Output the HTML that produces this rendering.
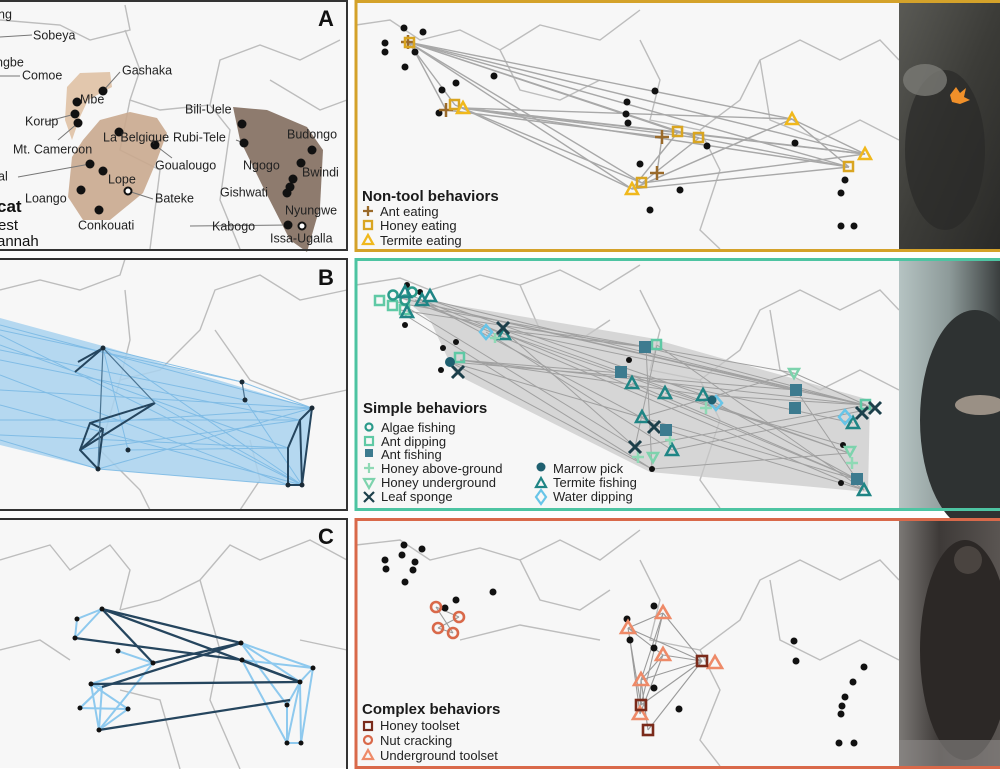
<!DOCTYPE html>
<html><head><meta charset="utf-8"><style>
html,body{margin:0;padding:0;background:#fff;}
svg{display:block;font-family:"Liberation Sans",Arial,sans-serif;}
</style></head><body>
<svg width="1000" height="769" viewBox="0 0 1000 769" xmlns="http://www.w3.org/2000/svg">
<defs>
<linearGradient id="p1" x1="0" y1="0" x2="1" y2="1"><stop offset="0" stop-color="#5a5a55"/><stop offset="0.5" stop-color="#3c3c38"/><stop offset="1" stop-color="#2a2a28"/></linearGradient>
<linearGradient id="p2" x1="0" y1="0" x2="1" y2="0"><stop offset="0" stop-color="#b5c3c2"/><stop offset="0.5" stop-color="#8d9a99"/><stop offset="1" stop-color="#3a3e3e"/></linearGradient>
<linearGradient id="p3" x1="0" y1="0" x2="1" y2="0"><stop offset="0" stop-color="#7b7875"/><stop offset="0.4" stop-color="#3e3a38"/><stop offset="1" stop-color="#5a5552"/></linearGradient>
</defs>
<rect width="1000" height="769" fill="#fff"/>

<rect x="0" y="2" width="347" height="247" fill="#f7f7f7"/>
<rect x="0" y="259" width="347" height="251" fill="#f7f7f7"/>
<rect x="0" y="519" width="347" height="249" fill="#f7f7f7"/>
<rect x="356" y="3" width="543" height="246" fill="#f7f7f7"/>
<rect x="356" y="261" width="543" height="247" fill="#f7f7f7"/>
<rect x="356" y="521" width="543" height="245" fill="#f7f7f7"/>

<g fill="none" stroke="#bdbdbd" stroke-width="1.4">
<path d="M0 20 L60 25 L90 40 L130 30 L125 5"/>
<path d="M125 30 L140 70 L130 100 L160 110 L210 105 L220 60 L260 45 L300 60 L340 40"/>
<path d="M210 105 L230 130 L220 200 L240 249"/>
<path d="M130 100 L120 150 L160 170 L150 249"/>
<path d="M270 80 L320 110 L347 100"/>
<path d="M0 290 L40 280 L80 290 L120 275 L125 259"/>
<path d="M125 290 L130 340 L120 380 L160 370 L200 330 L215 290 L260 275 L300 300 L347 290"/>
<path d="M215 330 L250 380 L300 400 L347 390"/>
<path d="M120 380 L100 450 L140 490 L150 510"/>
<path d="M250 440 L260 480 L240 510"/>
<path d="M0 560 L50 545 L70 570 L110 545 L130 570 L120 610"/>
<path d="M120 610 L160 600 L200 580 L230 545 L260 560 L310 540 L347 560"/>
<path d="M200 580 L220 650 L210 700 L240 769"/>
<path d="M0 650 L40 640 L70 660"/>
<path d="M120 690 L160 700 L180 769"/>
<path d="M300 640 L347 650"/>
<path d="M356 25 L390 20 L420 40 L460 30 L500 50 L540 25 L600 40 L640 10"/>
<path d="M640 40 L660 80 L650 120 L700 130 L740 100 L760 60 L800 40 L840 60 L880 40 L899 60"/>
<path d="M700 130 L720 170 L700 230 L720 249"/>
<path d="M760 60 L770 120 L820 140 L860 120 L899 140"/>
<path d="M500 50 L520 90 L560 100 L600 80"/>
<path d="M356 285 L400 278 L430 290 L480 275 L520 285 L560 270 L600 290 L640 265"/>
<path d="M640 290 L660 330 L650 370 L700 380 L740 350 L760 310 L800 290 L840 310 L880 290 L899 310"/>
<path d="M700 380 L720 420 L700 480 L720 508"/>
<path d="M770 310 L780 370 L820 390 L860 370 L899 390"/>
<path d="M520 285 L540 330 L580 340 L610 320"/>
<path d="M356 545 L400 540 L430 560 L480 548 L520 560 L560 540 L600 560 L640 530"/>
<path d="M640 560 L660 600 L650 640 L700 650 L740 620 L760 580 L800 560 L840 580 L880 560 L899 580"/>
<path d="M700 650 L720 690 L700 740 L720 766"/>
<path d="M770 580 L780 640 L820 660 L860 640 L899 660"/>
<path d="M520 560 L540 600 L580 610 L610 590"/>
<path d="M460 640 L520 625 L600 640"/>
</g>

<!-- Panel A -->
<polygon points="67,87 80,73 110,72 112,87 88,100 80,117 72,140 65,120" fill="#e2c7ad"/>
<polygon points="100,120 130,112 157,118 167,133 157,160 143,193 110,220 83,220 68,197 72,157 83,140" fill="#c9a88e" opacity="0.9"/>
<polygon points="233,107 267,110 307,127 323,150 320,207 307,252 290,240 263,187 240,140" fill="#8e7b6e"/>
<g stroke="#777" stroke-width="1" fill="none">
<line x1="0" y1="37" x2="32" y2="35"/><line x1="0" y1="76" x2="20" y2="76"/>
<line x1="103" y1="91" x2="120" y2="72"/><line x1="45" y1="122" x2="75" y2="114"/>
<line x1="58" y1="140" x2="78" y2="123"/><line x1="18" y1="177" x2="90" y2="164"/>
<line x1="128" y1="191" x2="153" y2="199"/><line x1="155" y1="145" x2="172" y2="158"/>
<line x1="190" y1="226" x2="288" y2="225"/><line x1="244" y1="143" x2="236" y2="140"/>
</g>
<g fill="#111">
<circle cx="103" cy="91" r="4.5"/><circle cx="77" cy="102" r="4.5"/><circle cx="75" cy="114" r="4.5"/><circle cx="78" cy="123" r="4.5"/>
<circle cx="119" cy="132" r="4.5"/><circle cx="155" cy="145" r="4.5"/><circle cx="90" cy="164" r="4.5"/><circle cx="103" cy="171" r="4.5"/>
<circle cx="81" cy="190" r="4.5"/><circle cx="99" cy="210" r="4.5"/><circle cx="242" cy="124" r="4.5"/><circle cx="244" cy="143" r="4.5"/>
<circle cx="312" cy="150" r="4.5"/><circle cx="301" cy="163" r="4.5"/><circle cx="293" cy="179" r="4.5"/><circle cx="290" cy="187" r="4.5"/>
<circle cx="287" cy="193" r="4.5"/><circle cx="288" cy="225" r="4.5"/>
</g>
<circle cx="128" cy="191" r="3.5" fill="#fff" stroke="#111" stroke-width="2"/>
<circle cx="302" cy="226" r="3.5" fill="#fff" stroke="#111" stroke-width="2"/>
<g font-size="12.5" fill="#222" dominant-baseline="middle">
<text x="-2" y="15">ng</text><text x="33" y="36">Sobeya</text><text x="-4" y="63">ngbe</text><text x="22" y="76">Comoe</text>
<text x="122" y="71">Gashaka</text><text x="80" y="100">Mbe</text><text x="25" y="122">Korup</text><text x="13" y="150">Mt. Cameroon</text>
<text x="103" y="138">La Belgique</text><text x="173" y="138">Rubi-Tele</text><text x="185" y="110">Bili-Uele</text><text x="287" y="135">Budongo</text>
<text x="155" y="166">Goualougo</text><text x="243" y="166">Ngogo</text><text x="302" y="173">Bwindi</text><text x="-2" y="177">al</text>
<text x="108" y="180">Lope</text><text x="220" y="193">Gishwati</text><text x="25" y="199">Loango</text><text x="155" y="199">Bateke</text>
<text x="285" y="211">Nyungwe</text><text x="78" y="226">Conkouati</text><text x="212" y="227">Kabogo</text><text x="270" y="239">Issa-Ugalla</text>
</g>
<text x="-3" y="212" font-size="17" font-weight="bold" fill="#111">cat</text>
<text x="-2" y="230" font-size="15" fill="#111">est</text>
<text x="-3" y="246" font-size="15" fill="#111">annah</text>
<text x="318" y="26" font-size="22" font-weight="bold" fill="#111">A</text>

<!-- Panel B -->
<polygon points="0,318 103,346 312,408 302,485 288,485 98,469 0,445" fill="#a9d2ef" opacity="0.85"/>
<g stroke="#78b8e4" stroke-width="1" opacity="0.85">
<line x1="0" y1="325" x2="312" y2="408"/><line x1="0" y1="335" x2="302" y2="485"/><line x1="0" y1="345" x2="288" y2="448"/>
<line x1="0" y1="360" x2="300" y2="420"/><line x1="0" y1="375" x2="288" y2="485"/><line x1="0" y1="390" x2="312" y2="408"/>
<line x1="0" y1="405" x2="302" y2="485"/><line x1="0" y1="420" x2="300" y2="420"/><line x1="0" y1="435" x2="288" y2="448"/>
<line x1="0" y1="330" x2="242" y2="382"/><line x1="0" y1="350" x2="245" y2="400"/><line x1="0" y1="440" x2="98" y2="469"/>
<line x1="103" y1="348" x2="302" y2="485"/><line x1="103" y1="348" x2="242" y2="382"/><line x1="98" y1="469" x2="312" y2="408"/>
<line x1="80" y1="450" x2="300" y2="420"/><line x1="98" y1="469" x2="288" y2="485"/><line x1="155" y1="403" x2="302" y2="485"/>
<line x1="90" y1="423" x2="312" y2="408"/><line x1="128" y1="450" x2="288" y2="448"/><line x1="103" y1="348" x2="128" y2="450"/>
<line x1="242" y1="382" x2="312" y2="408"/><line x1="245" y1="400" x2="302" y2="485"/>
</g>
<g stroke="#25455e" stroke-width="2" fill="none">
<polyline points="103,348 75,372"/><polyline points="103,348 78,362"/>
<polyline points="155,403 90,423 80,450 98,469 103,429 90,423"/><line x1="155" y1="403" x2="80" y2="450"/>
<line x1="103" y1="429" x2="80" y2="450"/>
<polyline points="312,408 300,420 288,448 288,485 302,485 312,408"/><line x1="300" y1="420" x2="302" y2="485"/>
</g>
<g stroke="#4a7391" stroke-width="1.2"><line x1="103" y1="348" x2="98" y2="469"/><line x1="103" y1="348" x2="155" y2="403"/><line x1="242" y1="382" x2="245" y2="400"/></g>
<g fill="#1a2a36"><circle cx="103" cy="348" r="2.5"/><circle cx="242" cy="382" r="2.5"/><circle cx="245" cy="400" r="2.5"/><circle cx="128" cy="450" r="2.5"/><circle cx="312" cy="408" r="2.5"/><circle cx="288" cy="485" r="2.5"/><circle cx="302" cy="485" r="2.5"/><circle cx="98" cy="469" r="2.5"/></g>
<text x="318" y="285" font-size="22" font-weight="bold" fill="#111">B</text>

<!-- Panel C -->
<g stroke="#8ec9ee" stroke-width="2" fill="none">
<polyline points="102,609 77,619 75,638 102,609"/><line x1="118" y1="651" x2="153" y2="663"/>
<polyline points="91,684 102,687 80,708 128,709 99,730 91,684 128,709"/><line x1="102" y1="687" x2="99" y2="730"/><line x1="80" y1="708" x2="102" y2="687"/><line x1="153" y1="663" x2="91" y2="684"/><line x1="153" y1="663" x2="99" y2="730"/>
<polyline points="241,643 313,668 300,682 287,705 287,743 301,743 313,668"/><line x1="241" y1="643" x2="300" y2="682"/><line x1="242" y1="660" x2="313" y2="668"/><line x1="241" y1="643" x2="287" y2="705"/><line x1="300" y1="682" x2="301" y2="743"/><line x1="242" y1="660" x2="287" y2="743"/><line x1="300" y1="682" x2="287" y2="743"/>
</g>
<g stroke="#25455e" stroke-width="2.3" fill="none">
<line x1="102" y1="609" x2="241" y2="643"/><line x1="102" y1="609" x2="300" y2="682"/><line x1="102" y1="609" x2="153" y2="663"/>
<line x1="75" y1="638" x2="242" y2="660"/><line x1="153" y1="663" x2="241" y2="643"/><line x1="91" y1="684" x2="300" y2="682"/>
<line x1="99" y1="730" x2="290" y2="700"/><line x1="242" y1="660" x2="300" y2="682"/><line x1="102" y1="687" x2="241" y2="643"/>
</g>
<g fill="#111"><circle cx="102" cy="609" r="2.5"/><circle cx="77" cy="619" r="2.5"/><circle cx="75" cy="638" r="2.5"/><circle cx="118" cy="651" r="2.5"/><circle cx="153" cy="663" r="2.5"/><circle cx="241" cy="643" r="2.5"/><circle cx="242" cy="660" r="2.5"/><circle cx="313" cy="668" r="2.5"/><circle cx="300" cy="682" r="2.5"/><circle cx="91" cy="684" r="2.5"/><circle cx="80" cy="708" r="2.5"/><circle cx="128" cy="709" r="2.5"/><circle cx="287" cy="705" r="2.5"/><circle cx="99" cy="730" r="2.5"/><circle cx="287" cy="743" r="2.5"/><circle cx="301" cy="743" r="2.5"/></g>
<text x="318" y="544" font-size="22" font-weight="bold" fill="#111">C</text>

<!-- Top right -->
<g stroke="#a8a8a8" stroke-width="1.4">
<line x1="408" y1="42" x2="455" y2="105"/><line x1="408" y1="42" x2="678" y2="132"/><line x1="408" y1="42" x2="699" y2="138"/>
<line x1="408" y1="42" x2="632" y2="189"/><line x1="408" y1="42" x2="865" y2="154"/><line x1="408" y1="42" x2="849" y2="167"/>
<line x1="408" y1="42" x2="792" y2="119"/><line x1="408" y1="42" x2="642" y2="183"/><line x1="414" y1="50" x2="446" y2="110"/>
<line x1="462" y1="108" x2="792" y2="119"/><line x1="462" y1="108" x2="865" y2="154"/><line x1="462" y1="108" x2="849" y2="167"/>
<line x1="462" y1="108" x2="632" y2="189"/><line x1="462" y1="108" x2="678" y2="132"/><line x1="462" y1="108" x2="699" y2="138"/>
<line x1="455" y1="105" x2="642" y2="183"/><line x1="446" y1="110" x2="662" y2="137"/>
<line x1="632" y1="189" x2="792" y2="119"/><line x1="632" y1="189" x2="849" y2="167"/><line x1="642" y1="183" x2="865" y2="154"/>
<line x1="632" y1="189" x2="678" y2="132"/><line x1="642" y1="183" x2="699" y2="138"/><line x1="657" y1="173" x2="662" y2="137"/>
<line x1="678" y1="132" x2="865" y2="154"/><line x1="699" y1="138" x2="849" y2="167"/><line x1="792" y1="119" x2="865" y2="154"/><line x1="792" y1="119" x2="849" y2="167"/>
</g>
<g fill="#111">
<circle cx="404" cy="28" r="3.5"/><circle cx="423" cy="32" r="3.5"/><circle cx="385" cy="43" r="3.5"/><circle cx="385" cy="52" r="3.5"/><circle cx="415" cy="52" r="3.5"/><circle cx="405" cy="67" r="3.5"/>
<circle cx="456" cy="83" r="3.5"/><circle cx="442" cy="90" r="3.5"/><circle cx="439" cy="113" r="3.5"/><circle cx="494" cy="76" r="3.5"/>
<circle cx="655" cy="91" r="3.5"/><circle cx="627" cy="102" r="3.5"/><circle cx="626" cy="114" r="3.5"/><circle cx="628" cy="123" r="3.5"/>
<circle cx="707" cy="146" r="3.5"/><circle cx="640" cy="164" r="3.5"/><circle cx="680" cy="190" r="3.5"/><circle cx="650" cy="210" r="3.5"/>
<circle cx="795" cy="143" r="3.5"/><circle cx="845" cy="180" r="3.5"/><circle cx="841" cy="193" r="3.5"/><circle cx="841" cy="226" r="3.5"/><circle cx="854" cy="226" r="3.5"/>
</g>
<g fill="none" stroke-width="2.5">
<g stroke="#9a6a2a"><path d="M401 42h14M408 35v14"/><path d="M439 110h14M446 103v14"/><path d="M655 137h14M662 130v14"/><path d="M650 173h14M657 166v14"/></g>
<g stroke="#d9a521"><rect x="405" y="38" width="9" height="9"/><rect x="450" y="100" width="9" height="9"/><rect x="673" y="127" width="9" height="9"/><rect x="694" y="133" width="9" height="9"/><rect x="637" y="178" width="9" height="9"/><rect x="844" y="162" width="9" height="9"/></g>
<g stroke="#f0b81c"><path d="M463 102l6 11h-12z"/><path d="M632 183l6 11h-12z"/><path d="M792 113l6 11h-12z"/><path d="M865 148l6 11h-12z"/></g>
</g>
<text x="362" y="201" font-size="15" font-weight="bold" fill="#1a1a1a">Non-tool behaviors</text>
<g stroke-width="2.3" fill="none"><path d="M363 211h10M368 206v10" stroke="#9a6a2a"/><rect x="364" y="221" width="8" height="8" stroke="#d9a521"/><path d="M368 235l5 9h-10z" stroke="#f0b81c"/></g>
<g font-size="13" fill="#222"><text x="380" y="216">Ant eating</text><text x="380" y="230">Honey eating</text><text x="380" y="245">Termite eating</text></g>

<!-- Middle right -->
<polygon points="400,296 650,338 870,400 868,492 650,472 455,374 430,320" fill="#c8c8c8" opacity="0.7"/>
<g stroke="#a0a0a0" stroke-width="1">
<line x1="400" y1="298" x2="866" y2="405"/><line x1="410" y1="295" x2="858" y2="480"/><line x1="420" y1="305" x2="849" y2="453"/><line x1="430" y1="300" x2="875" y2="408"/>
<line x1="405" y1="315" x2="652" y2="469"/><line x1="395" y1="300" x2="635" y2="447"/><line x1="420" y1="300" x2="665" y2="430"/><line x1="410" y1="305" x2="794" y2="373"/>
<line x1="430" y1="305" x2="796" y2="390"/><line x1="400" y1="310" x2="646" y2="347"/><line x1="430" y1="300" x2="703" y2="395"/><line x1="415" y1="300" x2="864" y2="490"/>
<line x1="460" y1="360" x2="866" y2="405"/><line x1="450" y1="362" x2="858" y2="480"/><line x1="460" y1="360" x2="703" y2="395"/><line x1="450" y1="362" x2="652" y2="469"/>
<line x1="503" y1="330" x2="866" y2="405"/><line x1="503" y1="330" x2="849" y2="453"/><line x1="503" y1="330" x2="635" y2="447"/><line x1="486" y1="332" x2="672" y2="450"/>
<line x1="646" y1="347" x2="875" y2="408"/><line x1="657" y1="345" x2="864" y2="490"/><line x1="621" y1="373" x2="853" y2="423"/><line x1="632" y1="383" x2="858" y2="480"/>
<line x1="635" y1="447" x2="866" y2="405"/><line x1="652" y1="469" x2="849" y2="453"/><line x1="672" y1="450" x2="875" y2="408"/><line x1="665" y1="430" x2="864" y2="490"/>
<line x1="642" y1="417" x2="794" y2="373"/><line x1="716" y1="403" x2="858" y2="480"/><line x1="703" y1="395" x2="866" y2="405"/><line x1="665" y1="393" x2="843" y2="445"/>
<line x1="646" y1="347" x2="652" y2="469"/><line x1="657" y1="345" x2="635" y2="447"/><line x1="794" y1="373" x2="866" y2="405"/><line x1="796" y1="390" x2="864" y2="490"/>
<line x1="460" y1="360" x2="621" y2="373"/><line x1="503" y1="330" x2="646" y2="347"/><line x1="450" y1="362" x2="796" y2="390"/>
</g>
<g fill="#111"><circle cx="405" cy="325" r="3"/><circle cx="456" cy="342" r="3"/><circle cx="443" cy="348" r="3"/><circle cx="441" cy="370" r="3"/><circle cx="629" cy="360" r="3"/><circle cx="652" cy="469" r="3"/><circle cx="843" cy="445" r="3"/><circle cx="841" cy="483" r="3"/><circle cx="420" cy="292" r="3"/><circle cx="407" cy="285" r="3"/></g>
<g fill="none" stroke-width="2.5">
<g stroke="#5fc9a5"><rect x="375" y="296" width="9" height="9"/><rect x="388" y="301" width="9" height="9"/><rect x="400" y="305" width="9" height="9"/><rect x="455" y="353" width="9" height="9"/><rect x="652" y="340" width="9" height="9"/><rect x="861" y="400" width="9" height="9"/></g>
<g stroke="#2a9a8a"><circle cx="393" cy="295" r="4.5"/><circle cx="405" cy="300" r="4.5"/><circle cx="412" cy="292" r="4.5"/></g>
<g stroke="#1f8585"><path d="M405 286l6 11h-12z"/><path d="M422 294l6 11h-12z"/><path d="M430 290l6 11h-12z"/><path d="M407 306l6 11h-12z"/><path d="M504 328l6 11h-12z"/><path d="M632 377l6 11h-12z"/><path d="M665 387l6 11h-12z"/><path d="M703 389l6 11h-12z"/><path d="M642 411l6 11h-12z"/><path d="M672 444l6 11h-12z"/><path d="M853 417l6 11h-12z"/><path d="M864 484l6 11h-12z"/></g>
<g stroke="#8fd9b5"><path d="M490 338h10M495 333v10"/><path d="M700 408h12M706 402v12"/><path d="M632 457h12M638 451v12"/><path d="M846 463h12M852 457v12"/><path d="M665 440h10M670 435v10"/></g>
<g stroke="#7dd3ad"><path d="M789 369l5 9 5-9z"/><path d="M845 447l5 9 5-9z"/><path d="M648 453l5 9 5-9z"/></g>
<g stroke="#68c5e8"><path d="M486 325l6 7-6 7-6-7z"/><path d="M716 396l6 7-6 7-6-7z"/><path d="M845 410l6 7-6 7-6-7z"/></g>
<g stroke="#1c3f4a" stroke-width="3"><path d="M497 322l12 12M509 322l-12 12"/><path d="M452 366l12 12M464 366l-12 12"/><path d="M648 421l12 12M660 421l-12 12"/><path d="M629 441l12 12M641 441l-12 12"/><path d="M869 402l12 12M881 402l-12 12"/><path d="M856 407l12 12M868 407l-12 12"/></g>
</g>
<g fill="#3d7b8f"><rect x="639" y="341" width="12" height="12"/><rect x="615" y="366" width="12" height="12"/><rect x="660" y="424" width="12" height="12"/><rect x="790" y="384" width="12" height="12"/><rect x="789" y="402" width="12" height="12"/><rect x="851" y="473" width="12" height="12"/></g>
<g fill="#1f6070"><circle cx="450" cy="362" r="5"/><circle cx="712" cy="400" r="4.5"/></g>
<text x="363" y="413" font-size="15" font-weight="bold" fill="#1a1a1a">Simple behaviors</text>
<g fill="none" stroke-width="2.2">
<circle cx="369" cy="427" r="3.5" stroke="#2a9a8a"/><rect x="365" y="437" width="8" height="8" stroke="#5fc9a5"/>
<path d="M364 468h10M369 463v10" stroke="#8fd9b5"/><path d="M364 479l5 9 5-9z" stroke="#7dd3ad"/>
<path d="M364 492l10 10M374 492l-10 10" stroke="#1c3f4a"/>
<path d="M541 478l5 9h-10z" stroke="#1f8585"/><path d="M541 490l5 7-5 7-5-7z" stroke="#68c5e8"/>
</g>
<rect x="365" y="449" width="8" height="8" fill="#3d7b8f"/><circle cx="541" cy="467" r="4.5" fill="#1f6070"/>
<g font-size="13" fill="#222">
<text x="381" y="432">Algae fishing</text><text x="381" y="446">Ant dipping</text><text x="381" y="459">Ant fishing</text>
<text x="381" y="473">Honey above-ground</text><text x="381" y="487">Honey underground</text><text x="381" y="501">Leaf sponge</text>
<text x="553" y="473">Marrow pick</text><text x="553" y="487">Termite fishing</text><text x="553" y="501">Water dipping</text>
</g>

<!-- Bottom right -->
<g stroke="#9a9a9a" stroke-width="1.1">
<line x1="436" y1="607" x2="459" y2="617"/><line x1="438" y1="628" x2="459" y2="617"/><line x1="453" y1="633" x2="436" y2="607"/><line x1="438" y1="628" x2="453" y2="633"/>
<line x1="663" y1="613" x2="628" y2="628"/><line x1="663" y1="613" x2="702" y2="661"/><line x1="663" y1="613" x2="641" y2="680"/><line x1="628" y1="628" x2="663" y2="655"/>
<line x1="628" y1="628" x2="641" y2="705"/><line x1="663" y1="655" x2="702" y2="661"/><line x1="663" y1="655" x2="641" y2="680"/><line x1="702" y1="661" x2="641" y2="680"/>
<line x1="702" y1="661" x2="641" y2="705"/><line x1="702" y1="661" x2="648" y2="730"/><line x1="641" y1="680" x2="640" y2="714"/><line x1="663" y1="655" x2="640" y2="714"/>
<line x1="628" y1="628" x2="702" y2="661"/><line x1="663" y1="613" x2="641" y2="705"/><line x1="641" y1="680" x2="648" y2="730"/><line x1="630" y1="640" x2="640" y2="714"/>
</g>
<g fill="#111">
<circle cx="404" cy="545" r="3.5"/><circle cx="422" cy="549" r="3.5"/><circle cx="402" cy="555" r="3.5"/><circle cx="385" cy="560" r="3.5"/><circle cx="415" cy="562" r="3.5"/><circle cx="386" cy="569" r="3.5"/><circle cx="413" cy="570" r="3.5"/><circle cx="405" cy="582" r="3.5"/><circle cx="493" cy="592" r="3.5"/><circle cx="456" cy="600" r="3.5"/><circle cx="445" cy="608" r="3.5"/>
<circle cx="654" cy="606" r="3.5"/><circle cx="627" cy="619" r="3.5"/><circle cx="630" cy="640" r="3.5"/><circle cx="654" cy="648" r="3.5"/><circle cx="654" cy="688" r="3.5"/><circle cx="679" cy="709" r="3.5"/>
<circle cx="794" cy="641" r="3.5"/><circle cx="796" cy="661" r="3.5"/><circle cx="864" cy="667" r="3.5"/><circle cx="853" cy="682" r="3.5"/><circle cx="845" cy="697" r="3.5"/><circle cx="842" cy="706" r="3.5"/><circle cx="841" cy="714" r="3.5"/><circle cx="839" cy="743" r="3.5"/><circle cx="854" cy="743" r="3.5"/>
</g>
<g fill="none" stroke-width="2.6">
<g stroke="#d9694a"><circle cx="436" cy="607" r="5"/><circle cx="459" cy="617" r="5"/><circle cx="438" cy="628" r="5"/><circle cx="453" cy="633" r="5"/></g>
<g stroke="#ee8a68"><path d="M663 606l7 12h-14z"/><path d="M628 621l7 12h-14z"/><path d="M663 648l7 12h-14z"/><path d="M715 656l7 12h-14z"/><path d="M641 673l7 12h-14z"/><path d="M640 707l7 12h-14z"/></g>
<g stroke="#7a2a1a"><rect x="697" y="656" width="10" height="10"/><rect x="636" y="700" width="10" height="10"/><rect x="643" y="725" width="10" height="10"/></g>
</g>
<text x="362" y="714" font-size="15" font-weight="bold" fill="#1a1a1a">Complex behaviors</text>
<g fill="none" stroke-width="2.2"><rect x="364" y="722" width="8" height="8" stroke="#7a2a1a"/><circle cx="368" cy="740" r="4" stroke="#d9694a"/><path d="M368 750l5 9h-10z" stroke="#ee8a68"/></g>
<g font-size="13" fill="#222"><text x="380" y="730">Honey toolset</text><text x="380" y="745">Nut cracking</text><text x="380" y="760">Underground toolset</text></g>

<!-- Photos -->
<rect x="899" y="3" width="101" height="246" fill="url(#p1)"/>
<ellipse cx="945" cy="150" rx="40" ry="80" fill="#2a2a28" opacity="0.7"/>
<ellipse cx="925" cy="80" rx="22" ry="16" fill="#7a7a75" opacity="0.8"/>
<path d="M950 95l6-8 4 6 6-5-2 9 6 3-10 4-8-2z" fill="#f0902a"/>
<rect x="899" y="261" width="101" height="247" fill="url(#p2)"/>
<ellipse cx="975" cy="420" rx="55" ry="110" fill="#2e3232"/>
<ellipse cx="980" cy="405" rx="25" ry="10" fill="#c9b8a8" opacity="0.7"/>
<rect x="899" y="521" width="101" height="245" fill="url(#p3)"/>
<ellipse cx="965" cy="650" rx="45" ry="110" fill="#2c2826"/>
<circle cx="968" cy="560" r="14" fill="#4a4440"/>
<rect x="899" y="740" width="101" height="26" fill="#8d8a88" opacity="0.6"/>

<!-- Borders -->
<g fill="none">
<rect x="-3" y="1" width="350" height="249" stroke="#333" stroke-width="2"/>
<rect x="-3" y="259" width="350" height="251" stroke="#333" stroke-width="2"/>
<rect x="-3" y="519" width="350" height="252" stroke="#333" stroke-width="2"/>
<rect x="356" y="1.5" width="650" height="249" stroke="#d4a22a" stroke-width="3"/>
<rect x="356" y="259.5" width="650" height="250" stroke="#4dc4a2" stroke-width="3"/>
<rect x="356" y="519.5" width="650" height="248" stroke="#d9694a" stroke-width="3"/>
</g>
</svg>
</body></html>
